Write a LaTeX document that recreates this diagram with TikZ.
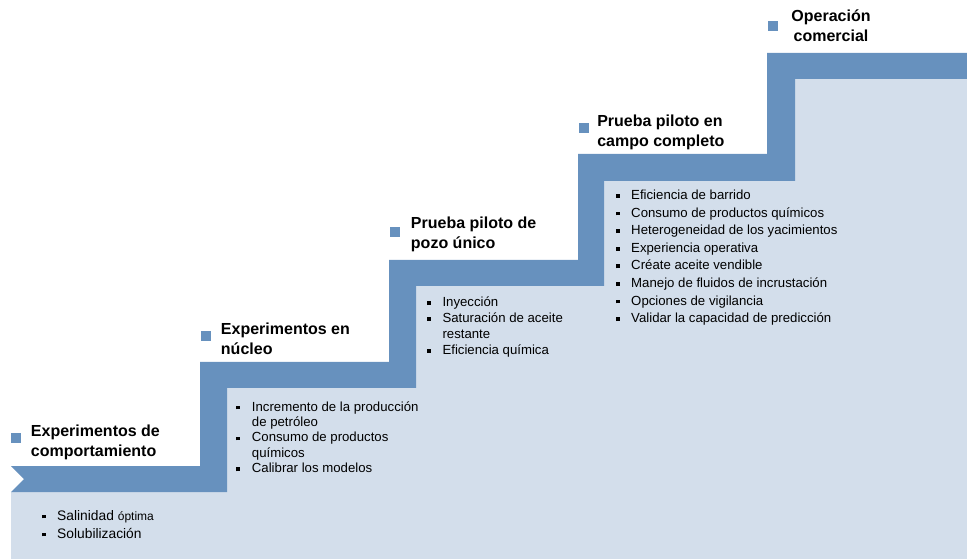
\documentclass[tikz,border=0pt]{standalone}
\usepackage{fontspec}
\setmainfont{Liberation Sans}
\usepackage{xcolor}
\usetikzlibrary{positioning}

\definecolor{stairblue}{RGB}{103,145,190}
\definecolor{stairfill}{RGB}{211,222,235}
\newcommand{\bul}{\makebox[11.6pt][l]{\rule[1.2pt]{2.9pt}{2.9pt}}}
\newcommand{\nobul}{\hspace*{11.6pt}}

\begin{document}
\begin{tikzpicture}[x=0.75pt,y=0.75pt,yscale=-1,xscale=1,
  heading/.style={font=\bfseries\fontsize{12}{15}\selectfont, inner sep=0, align=left, anchor=base west},
  steplist/.style={font=\fontsize{9.9}{#1}\selectfont, inner sep=0, align=left, anchor=base west},
  headsq/.style={fill=stairblue, draw=none, minimum size=7.5pt, inner sep=0}]
\useasboundingbox (0,0) rectangle (967,559);

% Shape: light fill under the stairs
\fill[stairfill] (11,492) -- (227,492) -- (227,388) -- (416,388) -- (416,286) -- (604,286) -- (604,181) -- (795,181) -- (795,79) -- (967,79) -- (967,559) -- (11,559) -- cycle;
% Shape: stair band
\fill[stairblue] (11,466) -- (200,466) -- (200,362) -- (389,362) -- (389,260) -- (578,260) -- (578,154) -- (767,154) -- (767,53) -- (967,53) -- (967,79) -- (795,79) -- (795,181) -- (604,181) -- (604,286) -- (416,286) -- (416,388) -- (227,388) -- (227,492) -- (11,492) -- (24,479) -- cycle;

% Text Node (anchored at the baseline of the last line)
\node[heading] (head1) at (30.7,456) {Experimentos de\\comportamiento};
\node[headsq] (sq1) at (16,438) {};
% Text Node
\node[heading] (head2) at (220.7,355) {Experimentos en\\núcleo};
\node[headsq] (sq2) at (206,336) {};
% Text Node
\node[heading] (head3) at (410.7,249) {Prueba piloto de\\pozo único};
\node[headsq] (sq3) at (395,232) {};
% Text Node
\node[heading] (head4) at (597,147) {Prueba piloto en\\campo completo};
\node[headsq] (sq4) at (583.5,128) {};
% Text Node
\node[heading, align=center, anchor=base] (head5) at (831,42) {Operación\\comercial};
\node[headsq] (sq5) at (773,26.5) {};

% Text Node
\node[steplist=13.5pt, font=\fontsize{10.35}{13.5}\selectfont] (list1) at (41.5,538) {\bul Salinidad {\fontsize{9}{13.5}\selectfont óptima}\\\bul Solubilización};
% Text Node
\node[steplist=11.6pt] (list2) at (236.2,472.9) {\bul Incremento de la producción\\\nobul de petróleo\\\bul Consumo de productos\\\nobul químicos\\\bul Calibrar los modelos};
% Text Node
\node[steplist=11.9pt] (list3) at (426.8,354.3) {\bul Inyección\\\bul Saturación de aceite\\\nobul restante\\\bul Eficiencia química};
% Text Node
\node[steplist=13.2pt] (list4) at (615.5,322.7) {\bul Eficiencia de barrido\\\bul Consumo de productos químicos\\\bul Heterogeneidad de los yacimientos\\\bul Experiencia operativa\\\bul Créate aceite vendible\\\bul Manejo de fluidos de incrustación\\\bul Opciones de vigilancia\\\bul Validar la capacidad de predicción};

\end{tikzpicture}
\end{document}
